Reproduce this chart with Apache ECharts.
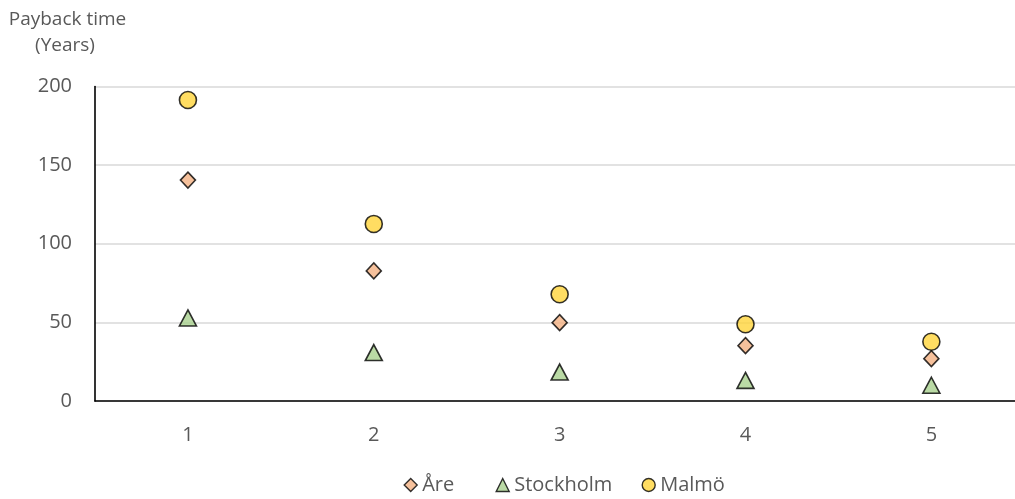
<!DOCTYPE html>
<html>
<head>
<meta charset="utf-8">
<script src="https://cdn.jsdelivr.net/npm/echarts@6/dist/echarts.min.js"></script>
<style>
  html, body { margin: 0; padding: 0; background: #fff; }
  #chart { width: 1015px; height: 499px; }
</style>
</head>
<body>
<div id="chart"></div>
<script>
// Payback time (years) per option, for three Swedish locations
const categories = [1, 2, 3, 4, 5];
const are = [140.5, 82.7, 49.8, 35.2, 26.9];
const stockholm = [52.8, 30.8, 18.4, 13.1, 10.0];
const malmo = [191.4, 112.6, 67.9, 48.8, 37.7];
const yTicks = [0, 50, 100, 150, 200];

const FONT = '"Open Sans", "Noto Sans", sans-serif';
const TEXT = '#595959';

const chart = echarts.init(document.getElementById('chart'), null, { renderer: 'canvas' });

function pairs(values) {
  return values.map((v, i) => [categories[i], v]);
}

function scatter(name, values, symbol, color, size) {
  return {
    name: name,
    type: 'scatter',
    data: pairs(values),
    symbol: symbol,
    symbolSize: size,
    itemStyle: { color: color, borderColor: '#000', borderWidth: 1.6 },
    emphasis: { disabled: true }
  };
}

function legendItem(left, name, icon, color) {
  return {
    left: left,
    top: 475,
    padding: 0,
    itemWidth: 13,
    itemHeight: 13,
    textStyle: { color: TEXT, fontSize: 20, fontFamily: FONT },
    data: [{ name: name, icon: icon, itemStyle: { color: color, borderColor: '#000', borderWidth: 1.4 } }]
  };
}

chart.setOption({
  animation: false,
  textStyle: { fontFamily: FONT },
  grid: { left: 95, top: 86.5, right: 0, height: 314.5, containLabel: false },
  graphic: [
    { type: 'text', x: 67.5, y: 20,
      style: { text: 'Payback time', fill: TEXT, font: '19px ' + FONT, textAlign: 'center', textVerticalAlign: 'middle' } },
    { type: 'text', x: 65, y: 46,
      style: { text: '(Years)', fill: TEXT, font: '19px ' + FONT, textAlign: 'center', textVerticalAlign: 'middle' } }
  ],
  xAxis: {
    type: 'value',
    min: 0.5,
    max: 5.45,
    axisLine: { onZero: false, lineStyle: { color: '#000', width: 1.6 } },
    axisTick: { show: false },
    axisLabel: { color: TEXT, fontSize: 20, margin: 24, customValues: categories },
    splitLine: { show: false }
  },
  yAxis: {
    type: 'value',
    min: yTicks[0],
    max: yTicks[yTicks.length - 1],
    interval: 50,
    axisLine: { show: true, lineStyle: { color: '#000', width: 1.6 } },
    axisTick: { show: false },
    axisLabel: { color: TEXT, fontSize: 20, margin: 23 },
    splitLine: { lineStyle: { color: '#d9d9d9', width: 1.5 } }
  },
  legend: [
    legendItem(403.5, 'Åre', 'diamond', '#F4B183'),
    legendItem(495.5, 'Stockholm', 'triangle', '#A9D18E'),
    legendItem(641.5, 'Malmö', 'circle', '#FFD43B')
  ],
  series: [
    scatter('Åre', are, 'diamond', '#F4B183', [15, 16]),
    scatter('Stockholm', stockholm, 'triangle', '#A9D18E', [17, 16]),
    scatter('Malmö', malmo, 'circle', '#FFD43B', 17)
  ]
});
</script>
</body>
</html>
